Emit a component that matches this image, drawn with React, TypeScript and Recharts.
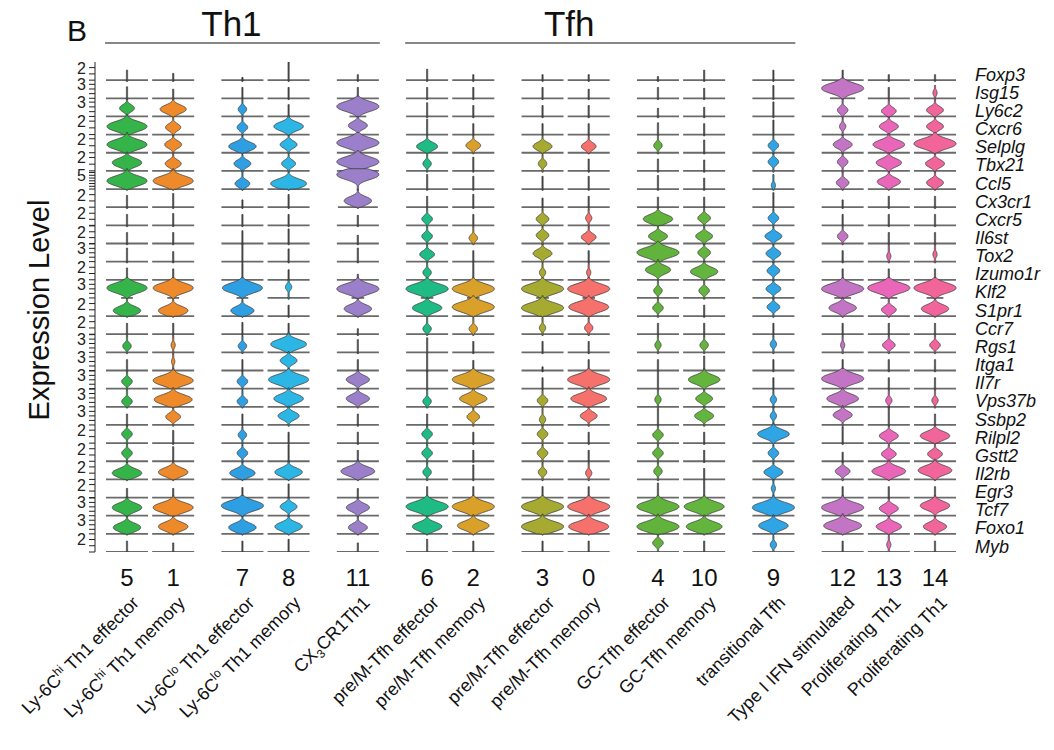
import React from 'react';
import { ScatterChart, Scatter, XAxis, YAxis, ReferenceLine, ReferenceDot } from 'recharts';

// ---------------- data ----------------
const CLUSTERS = ['5', '1', '7', '8', '11', '6', '2', '3', '0', '4', '10', '9', '12', '13', '14'];
// sizes of consecutive column groups (pairs/triples drawn closer together)
const CLUSTER_GROUP_SIZES = [2, 2, 1, 2, 2, 2, 1, 3];
const CLUSTER_NAMES = [
  'Ly-6C^{hi} Th1 effector',
  'Ly-6C^{hi} Th1 memory',
  'Ly-6C^{lo} Th1 effector',
  'Ly-6C^{lo} Th1 memory',
  'CX_{3}CR1Th1',
  'pre/M-Tfh effector',
  'pre/M-Tfh memory',
  'pre/M-Tfh effector',
  'pre/M-Tfh memory',
  'GC-Tfh effector',
  'GC-Tfh memory',
  'transitional Tfh',
  'Type I IFN stimulated',
  'Proliferating Th1',
  'Proliferating Th1',
];
const CLUSTER_COLORS = [
  '#35B44A', '#EE8A2A', '#2F9FE3', '#2CB6E6', '#9C7FCB',
  '#1EBB85', '#D9A02A', '#A6AA30', '#F6706C', '#62B33C',
  '#63B53D', '#2FA5E6', '#C474C4', '#E966B9', '#F2659B',
];
const GROUP_HEADERS = [
  { label: 'Th1', first: 0, last: 4 },
  { label: 'Tfh', first: 5, last: 11 },
];

const GENES = [
  'Foxp3', 'Isg15', 'Ly6c2', 'Cxcr6', 'Selplg', 'Tbx21', 'Ccl5', 'Cx3cr1', 'Cxcr5',
  'Il6st', 'Tox2', 'Izumo1r', 'Klf2', 'S1pr1', 'Ccr7', 'Rgs1', 'Itga1', 'Il7r',
  'Vps37b', 'Ssbp2', 'Rilpl2', 'Gstt2', 'Il2rb', 'Egr3', 'Tcf7', 'Foxo1', 'Myb',
];
// per-gene axis: labelled tick value and maximum expression level of the row
const AXIS_LABEL = [2, 3, 3, 2, 2, 2, 5, 2, 2, 2, 3, 2, 3, 2, 2, 3, 3, 3, 3, 3, 2, 2, 2, 2, 3, 3, 2];
const AXIS_MAX = [2.9, 3.9, 3.8, 2.7, 2.6, 2.7, 6.6, 2.9, 3.0, 3.1, 4.1, 2.9, 4.0, 2.9, 2.9, 4.1, 4.0, 4.1, 4.1, 4.0, 2.8, 2.9, 2.9, 2.8, 4.1, 4.0, 2.9];

// violin bulge width (% of max half width), rows = genes, cols = clusters
const WIDTH = [
  [0, 0, 0, 0, 0, 0, 0, 0, 0, 0, 0, 0, 0, 0, 0],
  [0, 0, 0, 0, 0, 0, 0, 0, 0, 0, 0, 0, 100, 0, 10],
  [35, 62, 20, 0, 100, 0, 0, 0, 0, 0, 0, 0, 25, 35, 40],
  [95, 36, 25, 70, 45, 0, 0, 0, 0, 0, 0, 0, 15, 45, 40],
  [95, 40, 65, 40, 100, 50, 35, 45, 35, 20, 0, 25, 45, 75, 100],
  [70, 38, 40, 33, 100, 20, 0, 20, 0, 0, 0, 25, 25, 60, 45],
  [95, 95, 35, 85, 100, 0, 0, 0, 0, 0, 0, 10, 30, 55, 40],
  [0, 0, 0, 0, 65, 0, 0, 0, 0, 0, 0, 0, 0, 0, 0],
  [0, 0, 0, 0, 0, 25, 0, 30, 15, 70, 30, 25, 0, 0, 0],
  [0, 0, 0, 0, 0, 25, 20, 30, 35, 45, 40, 40, 25, 0, 0],
  [0, 0, 0, 0, 0, 35, 0, 45, 0, 100, 30, 35, 0, 10, 10],
  [0, 0, 0, 0, 0, 20, 0, 15, 10, 60, 65, 30, 0, 0, 0],
  [95, 95, 95, 15, 100, 100, 100, 100, 100, 20, 25, 35, 100, 100, 100],
  [65, 70, 55, 0, 65, 70, 100, 100, 95, 25, 0, 30, 65, 35, 65],
  [0, 0, 0, 0, 0, 20, 20, 15, 20, 0, 0, 0, 0, 0, 0],
  [20, 10, 20, 85, 0, 0, 0, 0, 0, 15, 20, 15, 10, 30, 25],
  [0, 8, 0, 40, 0, 0, 0, 0, 0, 0, 0, 0, 0, 0, 0],
  [25, 95, 25, 95, 55, 0, 100, 0, 100, 0, 75, 0, 100, 0, 0],
  [25, 90, 25, 70, 55, 20, 65, 25, 85, 15, 40, 15, 75, 15, 15],
  [0, 35, 0, 50, 0, 0, 30, 15, 40, 0, 45, 15, 45, 0, 0],
  [25, 0, 20, 0, 0, 25, 0, 25, 0, 25, 0, 75, 0, 45, 70],
  [25, 0, 25, 0, 0, 25, 0, 25, 0, 25, 0, 25, 0, 35, 35],
  [70, 70, 60, 65, 80, 20, 0, 20, 15, 20, 0, 45, 35, 80, 80],
  [0, 0, 0, 0, 0, 0, 0, 0, 0, 0, 0, 10, 0, 0, 0],
  [70, 95, 100, 40, 55, 100, 100, 100, 100, 100, 95, 100, 100, 45, 70],
  [65, 70, 65, 65, 45, 70, 75, 100, 95, 100, 85, 70, 90, 60, 55],
  [0, 0, 0, 0, 0, 0, 0, 0, 0, 25, 0, 15, 0, 10, 0],
];
// height of the widest point (% of row height)
const CENTER = [
  [0, 0, 0, 0, 0, 0, 0, 0, 0, 0, 0, 0, 0, 0, 0],
  [0, 0, 0, 0, 0, 0, 0, 0, 0, 0, 0, 0, 55, 0, 30],
  [45, 40, 40, 0, 55, 0, 0, 0, 0, 0, 0, 0, 35, 30, 35],
  [45, 40, 40, 45, 50, 0, 0, 0, 0, 0, 0, 0, 45, 45, 45],
  [45, 45, 35, 45, 55, 35, 40, 35, 35, 40, 0, 40, 45, 45, 50],
  [45, 40, 40, 40, 50, 40, 0, 40, 0, 0, 0, 50, 50, 45, 40],
  [45, 45, 30, 30, 80, 0, 0, 0, 0, 0, 0, 20, 35, 40, 35],
  [0, 0, 0, 0, 35, 0, 0, 0, 0, 0, 0, 0, 0, 0, 0],
  [0, 0, 0, 0, 0, 35, 0, 35, 40, 35, 40, 40, 0, 0, 0],
  [0, 0, 0, 0, 0, 40, 30, 45, 35, 40, 40, 40, 40, 0, 0],
  [0, 0, 0, 0, 0, 40, 0, 45, 0, 50, 50, 45, 0, 30, 40],
  [0, 0, 0, 0, 0, 40, 0, 40, 40, 55, 45, 50, 0, 0, 0],
  [55, 55, 55, 60, 50, 50, 50, 50, 50, 40, 40, 50, 50, 55, 55],
  [30, 30, 30, 0, 40, 45, 50, 45, 50, 45, 0, 50, 45, 35, 40],
  [0, 0, 0, 0, 0, 30, 30, 35, 35, 0, 0, 0, 0, 0, 0],
  [35, 40, 35, 45, 0, 0, 0, 0, 0, 40, 40, 45, 40, 40, 40],
  [0, 50, 0, 55, 0, 0, 0, 0, 0, 0, 0, 0, 0, 0, 0],
  [40, 45, 40, 50, 50, 0, 50, 0, 50, 0, 50, 0, 55, 0, 0],
  [30, 40, 30, 45, 45, 30, 45, 35, 45, 40, 45, 40, 45, 35, 35],
  [0, 45, 0, 50, 0, 0, 45, 30, 50, 0, 50, 50, 55, 0, 0],
  [50, 0, 45, 0, 0, 50, 0, 50, 0, 45, 0, 50, 0, 40, 40],
  [45, 0, 45, 0, 0, 45, 0, 45, 0, 45, 0, 45, 0, 40, 40],
  [35, 40, 35, 40, 45, 40, 0, 40, 35, 45, 0, 40, 45, 45, 50],
  [0, 0, 0, 0, 0, 0, 0, 0, 0, 0, 0, 50, 0, 0, 0],
  [45, 45, 55, 50, 45, 50, 50, 50, 50, 50, 50, 45, 45, 40, 55],
  [35, 40, 35, 40, 35, 40, 45, 40, 40, 40, 40, 45, 45, 40, 40],
  [0, 0, 0, 0, 0, 0, 0, 0, 0, 50, 0, 40, 0, 40, 0],
];
// top of the violin tail (% of row height)
const TAIL = [
  [55, 37, 15, 100, 30, 60, 30, 30, 30, 20, 55, 55, 55, 30, 30],
  [63, 50, 60, 60, 60, 60, 60, 60, 50, 60, 55, 70, 95, 60, 60],
  [90, 90, 90, 65, 95, 75, 60, 60, 60, 45, 50, 80, 95, 90, 90],
  [90, 90, 90, 90, 95, 85, 60, 60, 60, 65, 60, 80, 90, 90, 90],
  [90, 90, 90, 90, 95, 90, 90, 90, 90, 90, 70, 90, 90, 90, 90],
  [90, 90, 90, 90, 95, 90, 75, 90, 65, 65, 60, 90, 90, 90, 90],
  [95, 95, 100, 95, 100, 80, 70, 70, 70, 75, 60, 80, 95, 95, 95],
  [65, 75, 40, 70, 100, 60, 70, 50, 60, 55, 55, 80, 40, 60, 60],
  [60, 65, 60, 60, 55, 90, 60, 90, 90, 90, 90, 90, 60, 60, 60],
  [60, 60, 70, 80, 45, 90, 90, 90, 90, 90, 90, 90, 90, 60, 60],
  [75, 55, 100, 70, 75, 90, 60, 90, 60, 95, 90, 90, 60, 90, 90],
  [65, 60, 90, 55, 30, 90, 90, 90, 90, 95, 95, 90, 60, 60, 60],
  [100, 100, 100, 90, 100, 100, 100, 100, 100, 90, 90, 90, 100, 100, 100],
  [90, 90, 90, 60, 90, 95, 95, 95, 95, 90, 60, 90, 90, 90, 90],
  [60, 60, 65, 60, 30, 90, 90, 90, 90, 60, 60, 60, 60, 60, 60],
  [90, 90, 90, 95, 70, 80, 60, 60, 60, 90, 90, 90, 90, 90, 90],
  [60, 90, 60, 95, 60, 90, 55, 20, 60, 60, 80, 60, 60, 60, 60],
  [90, 100, 90, 100, 95, 100, 100, 60, 100, 90, 95, 60, 100, 60, 60],
  [90, 95, 90, 95, 95, 90, 95, 90, 95, 90, 90, 90, 95, 90, 90],
  [60, 90, 60, 95, 60, 60, 90, 90, 95, 90, 95, 100, 95, 100, 60],
  [90, 70, 90, 60, 60, 90, 60, 90, 60, 90, 60, 95, 90, 90, 95],
  [90, 80, 90, 90, 60, 90, 60, 90, 60, 90, 60, 90, 50, 90, 90],
  [95, 95, 95, 95, 95, 90, 80, 90, 90, 90, 60, 90, 90, 95, 95],
  [50, 50, 55, 75, 50, 60, 60, 60, 60, 80, 90, 100, 60, 60, 60],
  [95, 95, 100, 95, 95, 100, 100, 100, 100, 100, 100, 100, 100, 95, 100],
  [95, 95, 95, 95, 95, 95, 95, 95, 95, 95, 95, 95, 95, 95, 95],
  [60, 50, 60, 70, 50, 70, 60, 60, 60, 90, 60, 90, 60, 90, 60],
];
// half length of the zero-expression spike (% of max half width)
const ZERO = [
  [100, 100, 100, 100, 100, 100, 100, 100, 100, 100, 100, 100, 100, 100, 100],
  [100, 100, 100, 100, 100, 100, 100, 100, 100, 100, 100, 100, 60, 100, 100],
  [100, 100, 100, 100, 40, 100, 100, 100, 100, 100, 100, 100, 100, 100, 100],
  [100, 100, 100, 100, 100, 100, 100, 100, 100, 100, 100, 100, 100, 100, 100],
  [100, 100, 100, 100, 100, 100, 100, 100, 100, 100, 100, 100, 100, 100, 100],
  [100, 100, 100, 100, 100, 100, 100, 100, 100, 100, 100, 100, 100, 100, 100],
  [100, 100, 100, 100, 0, 100, 100, 100, 100, 100, 100, 100, 100, 100, 100],
  [100, 100, 100, 100, 95, 100, 100, 100, 100, 100, 100, 100, 100, 100, 100],
  [100, 100, 100, 100, 100, 100, 100, 100, 100, 100, 100, 100, 100, 100, 100],
  [100, 100, 100, 100, 100, 100, 100, 100, 100, 100, 100, 100, 100, 100, 100],
  [100, 100, 100, 100, 100, 100, 100, 100, 100, 100, 100, 100, 100, 100, 100],
  [100, 100, 100, 100, 100, 100, 100, 100, 100, 100, 100, 100, 100, 100, 100],
  [28, 28, 28, 100, 30, 30, 30, 30, 30, 100, 100, 100, 40, 40, 40],
  [100, 100, 100, 100, 100, 100, 100, 100, 100, 100, 100, 100, 100, 100, 100],
  [100, 100, 100, 100, 100, 100, 100, 100, 100, 100, 100, 100, 100, 100, 100],
  [100, 100, 100, 100, 100, 100, 100, 100, 100, 100, 100, 100, 100, 100, 100],
  [100, 100, 100, 100, 100, 100, 100, 100, 100, 100, 100, 100, 100, 100, 100],
  [100, 100, 100, 100, 100, 100, 100, 100, 100, 100, 100, 100, 100, 100, 100],
  [100, 100, 100, 100, 100, 100, 100, 100, 100, 100, 100, 100, 100, 100, 100],
  [100, 100, 100, 100, 100, 100, 100, 100, 100, 100, 100, 100, 100, 100, 100],
  [100, 100, 100, 100, 100, 100, 100, 100, 100, 100, 100, 100, 100, 100, 100],
  [100, 100, 100, 100, 100, 100, 100, 100, 100, 100, 100, 100, 100, 100, 100],
  [100, 100, 100, 100, 100, 100, 100, 100, 100, 100, 100, 100, 100, 100, 100],
  [100, 100, 100, 100, 100, 100, 100, 100, 100, 100, 100, 100, 100, 100, 100],
  [100, 100, 100, 100, 100, 100, 100, 100, 100, 100, 100, 100, 100, 100, 100],
  [100, 100, 100, 100, 100, 100, 100, 100, 100, 100, 100, 100, 100, 100, 100],
  [100, 100, 100, 100, 100, 100, 100, 100, 100, 100, 100, 100, 100, 100, 100],
];

// ---------------- layout ----------------
const W = 1054;
const H = 750;
const PLOT_TOP = 62;
const PLOT_BOTTOM = 552;
const PLOT_LEFT = 95;
const PLOT_RIGHT = 967;
const N_ROWS = GENES.length;
const ROW_H = (PLOT_BOTTOM - PLOT_TOP) / N_ROWS;
const X_MIN = -1.386;
const X_MAX = 36.386;
const X_UNIT = (PLOT_RIGHT - PLOT_LEFT) / (X_MAX - X_MIN);
const HALF_W = 0.91 * X_UNIT;
const HEADER_DX = [-11, -31];
const FONT = '"Liberation Sans", Arial, Helvetica, sans-serif';

// column slot of each cluster: gap 2 inside a group, 3 between groups
const SLOTS: number[] = (() => {
  const out: number[] = [];
  let pos = 0;
  CLUSTER_GROUP_SIZES.forEach((size) => {
    for (let k = 0; k < size; k++) {
      out.push(pos);
      pos += k < size - 1 ? 2 : 3;
    }
  });
  return out;
})();

const VIOLINS = GENES.flatMap((gene, i) =>
  CLUSTERS.map((cl, j) => ({
    gene,
    cluster: cl,
    x: SLOTS[j],
    y: N_ROWS - 1 - i,
    w: WIDTH[i][j] / 100,
    h: CENTER[i][j] / 100,
    t: TAIL[i][j] / 100,
    z: ZERO[i][j] / 100,
    color: CLUSTER_COLORS[j],
  }))
);

const keyOf = (v: number) => v.toFixed(5);
const LEFT_TICKS: number[] = [];
const LEFT_LABELS = new Map<string, string>();
(() => {
  const seen = new Set<string>();
  GENES.forEach((g, i) => {
    const base = N_ROWS - 1 - i;
    const mx = AXIS_MAX[i];
    for (let k = 0; k <= Math.floor(mx); k++) {
      const v = base + k / mx;
      const kk = keyOf(v);
      if (!seen.has(kk) && v <= N_ROWS + 1e-9) {
        seen.add(kk);
        LEFT_TICKS.push(v);
      }
    }
    const lv = base + AXIS_LABEL[i] / mx;
    LEFT_LABELS.set(keyOf(lv), String(AXIS_LABEL[i]));
    if (!seen.has(keyOf(lv))) {
      seen.add(keyOf(lv));
      LEFT_TICKS.push(lv);
    }
  });
  LEFT_TICKS.sort((a, b) => a - b);
})();

const GENE_TICKS = GENES.map((g, i) => N_ROWS - 1 - i + 0.3).sort((a, b) => a - b);
const GENE_POINTS = GENES.map((g, i) => ({ x: 0, y: N_ROWS - 1 - i + 0.3 }));

// ---------------- renderers ----------------
function renderRich(s: string, small: number) {
  const parts = s.split(/(\^\{[^}]*\}|_\{[^}]*\})/).filter((p) => p.length > 0);
  let shift = 0;
  return parts.map((p, k) => {
    let txt = p;
    let fs: number | undefined = undefined;
    let target = 0;
    if (p.startsWith('^{')) {
      target = -7;
      txt = p.slice(2, -1);
      fs = small;
    } else if (p.startsWith('_{')) {
      target = 4;
      txt = p.slice(2, -1);
      fs = small;
    }
    const dy = target - shift;
    shift = target;
    return (
      <tspan key={k} dy={dy} fontSize={fs}>
        {txt}
      </tspan>
    );
  });
}

function renderViolin(props: any) {
  const { cx, cy, payload } = props;
  if (typeof cx !== 'number' || typeof cy !== 'number' || !payload) return <g />;
  const { w, h, t, z, color } = payload;
  const amp = w * HALF_W;
  const s = 0.2 + 0.16 * w;
  const P = 2.3;
  const uTop = amp > 0 ? Math.max(t, Math.min(h + 1.9 * s, 1.12)) : t;
  const uBot = -0.07;
  const N = 64;
  const right: string[] = [];
  const left: string[] = [];
  for (let k = 0; k <= N; k++) {
    const u = uBot + ((uTop - uBot) * k) / N;
    let f = 0.6;
    if (amp > 0 && u >= 0) f = Math.max(f, amp * Math.exp(-Math.pow(Math.abs(u - h) / s, P)));
    const yy = cy - u * ROW_H;
    right.push(`${(cx + f).toFixed(2)},${yy.toFixed(2)}`);
    left.push(`${(cx - f).toFixed(2)},${yy.toFixed(2)}`);
  }
  const d = 'M' + right.join('L') + 'L' + left.reverse().join('L') + 'Z';
  const zl = z * HALF_W;
  return (
    <g>
      {zl > 0 && (
        <line x1={cx - zl} x2={cx + zl} y1={cy} y2={cy} stroke="#6a6a6a" strokeWidth={1.8} />
      )}
      <path d={d} fill={amp > 0 ? color : '#555'} stroke="#3c3c3c" strokeWidth={0.8} strokeLinejoin="round" />
    </g>
  );
}

function ClusterTick(props: any) {
  const { x, y, payload } = props;
  const idx = SLOTS.indexOf(payload?.value);
  if (idx < 0) return <g />;
  const ax = x + 13;
  const ay = y + 52;
  return (
    <g>
      <text x={x} y={y + 34} textAnchor="middle" fontSize={24} fill="#111" fontFamily={FONT}>
        {CLUSTERS[idx]}
      </text>
      <text
        x={ax}
        y={ay}
        textAnchor="end"
        fontSize={18}
        fill="#111"
        fontFamily={FONT}
        transform={`rotate(-45 ${ax} ${ay})`}
      >
        {renderRich(CLUSTER_NAMES[idx], 12)}
      </text>
    </g>
  );
}

function LeftTick(props: any) {
  const { x, y, payload } = props;
  const lbl = LEFT_LABELS.get(keyOf(payload?.value ?? -1));
  if (!lbl) return <g />;
  return (
    <text x={x} y={y} dy={6} textAnchor="end" fontSize={16} fill="#222" fontFamily={FONT}>
      {lbl}
    </text>
  );
}

function GeneTick(props: any) {
  const { x, y, payload } = props;
  const idx = N_ROWS - 1 - Math.round((payload?.value ?? 0) - 0.3);
  const g = GENES[idx];
  if (!g) return <g />;
  return (
    <text x={x} y={y} dy={6} textAnchor="start" fontSize={18} fontStyle="italic" fill="#111" fontFamily={FONT}>
      {g}
    </text>
  );
}

const BRACKET_Y = N_ROWS + (PLOT_TOP - 43) / ROW_H;

export default function App() {
  return (
    <div
      style={{
        position: 'absolute',
        left: 0,
        top: 0,
        width: W,
        height: H,
        background: '#fff',
        fontFamily: FONT,
      }}
    >
      <ScatterChart width={W} height={H} margin={{ top: PLOT_TOP, right: 0, bottom: 0, left: 0 }}>
        <XAxis
          type="number"
          dataKey="x"
          domain={[X_MIN, X_MAX]}
          ticks={SLOTS}
          interval={0}
          axisLine={false}
          tickLine={false}
          tickSize={0}
          tickMargin={0}
          height={H - PLOT_BOTTOM}
          tick={ClusterTick}
          allowDataOverflow
        />
        <YAxis
          yAxisId="left"
          type="number"
          dataKey="y"
          domain={[0, N_ROWS]}
          ticks={LEFT_TICKS}
          interval={0}
          width={PLOT_LEFT}
          tickSize={6}
          tickMargin={3}
          stroke="#222"
          tick={LeftTick}
          allowDataOverflow
        />
        <YAxis
          yAxisId="right"
          orientation="right"
          type="number"
          dataKey="y"
          domain={[0, N_ROWS]}
          ticks={GENE_TICKS}
          interval={0}
          width={W - PLOT_RIGHT}
          axisLine={false}
          tickLine={false}
          tickSize={0}
          tickMargin={8}
          tick={GeneTick}
          allowDataOverflow
        />
        <Scatter yAxisId="right" data={GENE_POINTS} shape={() => <g />} isAnimationActive={false} />
        <Scatter yAxisId="left" data={VIOLINS} shape={renderViolin} isAnimationActive={false} />
        {GROUP_HEADERS.map((gh, gi) => (
          <ReferenceLine
            key={gh.label}
            yAxisId="left"
            ifOverflow="visible"
            segment={[
              { x: SLOTS[gh.first] - 0.95, y: BRACKET_Y },
              { x: SLOTS[gh.last] + 0.95, y: BRACKET_Y },
            ]}
            stroke="#111"
            strokeWidth={1.2}
            label={{ value: gh.label, position: 'top', fontSize: 35, fill: '#111', offset: 7, dx: HEADER_DX[gi] }}
          />
        ))}
        <ReferenceDot
          yAxisId="left"
          ifOverflow="visible"
          x={(77 - 127) / X_UNIT}
          y={N_ROWS + (PLOT_TOP - 30) / ROW_H}
          r={0}
          fill="none"
          stroke="none"
          label={{ value: 'B', position: 'center', fontSize: 30, fill: '#111' }}
        />
        <ReferenceDot
          yAxisId="left"
          ifOverflow="visible"
          x={(39 - 127) / X_UNIT}
          y={N_ROWS - (310 - PLOT_TOP) / ROW_H}
          r={0}
          fill="none"
          stroke="none"
          label={{ value: 'Expression Level', position: 'center', angle: -90, fontSize: 29, fill: '#111' }}
        />
      </ScatterChart>
    </div>
  );
}
